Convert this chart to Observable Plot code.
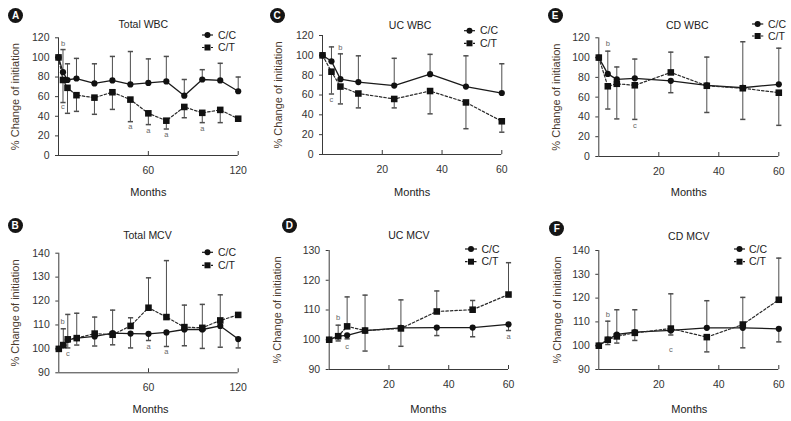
<!DOCTYPE html>
<html><head><meta charset="utf-8">
<script src="https://cdn.jsdelivr.net/npm/d3@7"></script>
<script src="https://cdn.jsdelivr.net/npm/@observablehq/plot@0.6"></script>
<style>
html,body{margin:0;padding:0;background:#fff}
#root{position:relative;width:791px;height:421px;overflow:hidden;background:#fff}
.panel{position:absolute}
.panel svg{overflow:visible}
.badge{position:absolute;width:15px;height:15px;border-radius:50%;background:#151515;color:#fff;
  font:bold 10px "Liberation Sans","DejaVu Sans",sans-serif;text-align:center;line-height:15px}
</style></head>
<body><div id="root"></div>
<script>
// ---------- data ----------
const monthsTotal = [0, 3, 6, 12, 24, 36, 48, 60, 72, 84, 96, 108, 120];
const monthsSub = [0, 3, 6, 12, 24, 36, 48, 60];
const seriesNames = ["C/C", "C/T"];

// A: Total WBC
const totalWbcCC = [100, 85, 77, 78.5, 73.5, 76.5, 72.5, 74, 75.5, 61, 77.5, 76.5, 65.5];
const totalWbcCT = [100, 77, 69, 61.5, 59, 64.5, 57, 43, 35.5, 49.5, 43.5, 46.5, 37.5];
const totalWbcHi = [null, 108, 93.5, 99, 93.5, 101, 106, 98.5, 101, 77.5, 87.5, 94, 80];
const totalWbcLo = [null, 54, 43, 45, 42, 47, 34.5, 31.5, 27, 38.5, 33.5, 33.5, null];
const totalWbcNotes = [["b", 3, 114.5], ["c", 3, 49.5], ["a", 48, 29], ["a", 60, 25], ["a", 72, 21], ["a", 96, 27.5]];

// B: Total MCV
const totalMcvCC = [100, 101.5, 103.8, 104.5, 105.2, 106.6, 106.4, 106.3, 106.9, 108.1, 108.1, 109.6, 104.1];
const totalMcvCT = [100, 101.6, 104, 104.5, 106.4, 105.9, 109.6, 117.2, 113.3, 109.1, 108.8, 111.9, 114.2];
const totalMcvHi = [null, 108.4, 114.4, 114.9, 113.3, 116.2, 113, 129.7, 136.9, 118.3, 118.6, 122.6, null];
const totalMcvLo = [null, null, 100.4, 101.6, 101.2, 101.7, 100.4, 103.5, 101, 101.3, 100.2, 100.7, 100.4];
const totalMcvNotes = [["b", 2.5, 111.5], ["c", 6, 98], ["a", 60, 100.8], ["a", 72, 99]];

// C: UC WBC
const ucWbcCC = [100, 94, 76, 73, 69.5, 81, 68.5, 62];
const ucWbcCT = [100, 83.5, 68.5, 61.5, 56, 64, 52.5, 33.5];
const ucWbcHi = [null, 108.5, 101.5, 99.5, 97, 101, 99.5, 91.5];
const ucWbcLo = [null, 61, 51, 47, 47, 41, 26, 22.5];
const ucWbcNotes = [["b", 6, 107.5], ["c", 3, 55.5]];

// D: UC MCV
const ucMcvCC = [100, 101.2, 101.5, 103.1, 104, 104.1, 104.1, 105.2];
const ucMcvCT = [100, 101.2, 104.5, 103.1, 103.8, 109.5, 110.1, 115.2];
const ucMcvHi = [null, 104.9, 114.4, 115, 113.4, 116.4, 113.2, 125.9];
const ucMcvLo = [null, 99.6, 100.3, 96.2, 97.8, 101.4, 101, 103.1];
const ucMcvNotes = [["b", 3, 107.5], ["c", 6, 97.7], ["a", 60, 100.9]];

// E: CD WBC
const cdWbcCC = [100, 83.5, 78, 79, 76.5, 72, 69.5, 73];
const cdWbcCT = [100, 71, 73.5, 72, 85, 71.5, 69, 64.5];
const cdWbcHi = [null, 106.5, 90.5, 98.5, 105.5, 100.5, 116, 109.5];
const cdWbcLo = [null, 48, 38, 37.5, 64.5, 44.5, 37.5, 31.5];
const cdWbcNotes = [["b", 3, 114], ["c", 12, 31]];

// F: CD MCV
const cdMcvCC = [100, 102.6, 104.7, 105.7, 106.4, 107.5, 107.5, 107.1];
const cdMcvCT = [100, 102.5, 103.9, 105.4, 107.2, 103.6, 108.9, 119.3];
const cdMcvHi = [null, 110.3, 115.1, 115.1, 121.8, 118.9, 120.3, 136.8];
const cdMcvLo = [null, 100.5, 101.1, 102.2, 104.5, 97.4, 99.1, 101.6];
const cdMcvNotes = [["b", 3, 113], ["c", 24, 98.5]];

// axis ticks
const yTicksWbc = [0, 20, 40, 60, 80, 100, 120];
const yTicksMcv140 = [90, 100, 110, 120, 130, 140];
const yTicksMcv130 = [90, 100, 110, 120, 130];
const xTicksTotal = [60, 120];
const xTicksSub = [20, 40, 60];
const yLabelText = "% Change of initiation";
const xLabelText = "Months";

// ---------- layout ----------
const FONT = '"Liberation Sans",Arial,sans-serif';
const panels = [
  {letter:"A", title:"Total WBC", months:monthsTotal, cc:totalWbcCC, ct:totalWbcCT, hi:totalWbcHi, lo:totalWbcLo, notes:totalWbcNotes,
   yDomain:[0,120], yTicks:yTicksWbc, xDomain:[0,120], xTicks:xTicksTotal,
   left:0, top:0, w:262, h:210, mL:58, mR:24.3, mT:37.3, mB:55, titleDx:-5, titleY:24, xlabDx:0, xlabY:192, ylabX:15,
   leg:{x1:202, x2:213, y1:35, y2:47.5, tx:218}, badge:[15.7,15.7]},
  {letter:"B", title:"Total MCV", months:monthsTotal, cc:totalMcvCC, ct:totalMcvCT, hi:totalMcvHi, lo:totalMcvLo, notes:totalMcvNotes,
   yDomain:[90,140], yTicks:yTicksMcv140, xDomain:[0,120], xTicks:xTicksTotal,
   left:0, top:210, w:262, h:211, mL:58.3, mR:24.3, mT:42.7, mB:48.7, titleDx:-1, titleY:25, xlabDx:2, xlabY:199, ylabX:15,
   leg:{x1:202, x2:213, y1:42.3, y2:55.3, tx:218}, badge:[15,225.7]},
  {letter:"C", title:"UC WBC", months:monthsSub, cc:ucWbcCC, ct:ucWbcCT, hi:ucWbcHi, lo:ucWbcLo, notes:ucWbcNotes,
   yDomain:[0,120], yTicks:yTicksWbc, xDomain:[0,60], xTicks:xTicksSub,
   left:262, top:0, w:263, h:210, mL:60, mR:23.7, mT:35, mB:56, titleDx:-2, titleY:25, xlabDx:0, xlabY:192, ylabX:16,
   leg:{x1:202, x2:213, y1:30.7, y2:43.3, tx:218}, badge:[277,15.7]},
  {letter:"D", title:"UC MCV", months:monthsSub, cc:ucMcvCC, ct:ucMcvCT, hi:ucMcvHi, lo:ucMcvLo, notes:ucMcvNotes,
   yDomain:[90,130], yTicks:yTicksMcv130, xDomain:[0,60], xTicks:xTicksSub,
   left:262, top:210, w:263, h:211, mL:66.7, mR:17, mT:40, mB:52, titleDx:-10, titleY:25, xlabDx:9.5, xlabY:199, ylabX:15,
   leg:{x1:203, x2:215, y1:39, y2:51.7, tx:219.5}, badge:[289.3,225.7]},
  {letter:"E", title:"CD WBC", months:monthsSub, cc:cdWbcCC, ct:cdWbcCT, hi:cdWbcHi, lo:cdWbcLo, notes:cdWbcNotes,
   yDomain:[0,120], yTicks:yTicksWbc, xDomain:[0,60], xTicks:xTicksSub,
   left:525, top:0, w:266, h:210, mL:73.3, mR:12.7, mT:37.3, mB:54, titleDx:-1.5, titleY:25, xlabDx:0, xlabY:192, ylabX:30.7,
   leg:{x1:227, x2:238.3, y1:24, y2:36, tx:243}, badge:[555,15.7]},
  {letter:"F", title:"CD MCV", months:monthsSub, cc:cdMcvCC, ct:cdMcvCT, hi:cdMcvHi, lo:cdMcvLo, notes:cdMcvNotes,
   yDomain:[90,140], yTicks:yTicksMcv140, xDomain:[0,60], xTicks:xTicksSub,
   left:525, top:210, w:266, h:211, mL:73.3, mR:12.7, mT:40, mB:52, titleDx:0, titleY:26, xlabDx:0.5, xlabY:199, ylabX:31.7,
   leg:{x1:209, x2:220, y1:39, y2:51.7, tx:224}, badge:[556.7,228.3]}
];

const capSymbol = {draw(ctx){ ctx.moveTo(-2.6, 0); ctx.lineTo(2.6, 0); }};
const root = document.getElementById("root");

for (const p of panels) {
  const rows = p.months.map((m, i) => ({m, cc: p.cc[i], ct: p.ct[i], hi: p.hi[i], lo: p.lo[i]}));
  const upRows = rows.filter(d => d.hi != null);
  const loRows = rows.filter(d => d.lo != null);
  const notes = p.notes.map(([t, m, v]) => ({t, m, v}));
  const frameH = p.h - p.mT - p.mB;
  const axisCol = "#3a3a3a", barCol = "#4d4d4d";

  const svg = Plot.plot({
    width: p.w, height: p.h,
    marginLeft: p.mL, marginRight: p.mR, marginTop: p.mT, marginBottom: p.mB,
    style: {fontFamily: FONT, fontSize: "10.5px", color: "#333", background: "transparent", overflow: "visible"},
    x: {domain: p.xDomain},
    y: {domain: p.yDomain},
    marks: [
      Plot.ruleX([p.xDomain[0]], {stroke: axisCol, strokeWidth: 1}),
      Plot.ruleY([p.yDomain[0]], {stroke: axisCol, strokeWidth: 1}),
      Plot.axisY({ticks: p.yTicks, tickSize: 3, tickPadding: 6, label: null, stroke: axisCol, fill: "#333", fontSize: 10.5}),
      Plot.axisX({ticks: p.xTicks, tickSize: 0, tickPadding: 11, label: null, fill: "#333", fontSize: 10.5}),
      Plot.tickX(p.xTicks, {x: d => d, insetTop: frameH - 4, stroke: axisCol}),
      // error bars
      Plot.ruleX(upRows, {x: "m", y1: d => Math.max(d.cc, d.ct), y2: "hi", stroke: barCol, strokeWidth: 1}),
      Plot.ruleX(loRows, {x: "m", y1: d => Math.min(d.cc, d.ct), y2: "lo", stroke: barCol, strokeWidth: 1}),
      Plot.dot(upRows, {x: "m", y: "hi", symbol: capSymbol, stroke: barCol, fill: "none", r: 3}),
      Plot.dot(loRows, {x: "m", y: "lo", symbol: capSymbol, stroke: barCol, fill: "none", r: 3}),
      // lines
      Plot.line(rows, {x: "m", y: "cc", stroke: "#1a1a1a", strokeWidth: 1.3}),
      Plot.line(rows, {x: "m", y: "ct", stroke: "#2a2a2a", strokeWidth: 1.2, strokeDasharray: "2.5,2"}),
      Plot.dot(rows, {x: "m", y: "cc", r: 3.1, fill: "#111", stroke: "none"}),
      Plot.dot(rows, {x: "m", y: "ct", symbol: "square", r: 3.7, fill: "#111", stroke: "none"}),
      // significance letters
      Plot.text(notes, {x: "m", y: "v", text: "t", fontSize: 7.5, fill: "#666"}),
      // title & axis labels
      Plot.text([p.title], {frameAnchor: "top", dx: p.titleDx, dy: p.titleY - p.mT, lineAnchor: "middle", fontSize: 10.5, fill: "#222"}),
      Plot.text([xLabelText], {frameAnchor: "bottom", dx: p.xlabDx, dy: p.xlabY - (p.h - p.mB), lineAnchor: "middle", fontSize: 11, fill: "#222"}),
      Plot.text([yLabelText], {frameAnchor: "left", dx: p.ylabX - p.mL, rotate: -90, textAnchor: "middle", lineAnchor: "middle", fontSize: 11, fill: "#4a3a2e"})
    ]
  });

  // legend
  const g = d3.select(svg).append("g").attr("font-family", FONT).attr("font-size", 10.5)
    .attr("fill", "#222").attr("text-anchor", "start");
  const L = p.leg;
  const mx = (L.x1 + L.x2) / 2;
  [[L.y1, null, "circle"], [L.y2, "2.5,2", "square"]].forEach(([yy, dash, shape], i) => {
    g.append("line").attr("x1", L.x1).attr("x2", L.x2).attr("y1", yy).attr("y2", yy)
      .attr("stroke", "#1a1a1a").attr("stroke-width", 1.2).attr("stroke-dasharray", dash);
    if (shape === "circle") g.append("circle").attr("cx", mx).attr("cy", yy).attr("r", 3).attr("fill", "#111");
    else g.append("rect").attr("x", mx - 3).attr("y", yy - 3).attr("width", 6).attr("height", 6).attr("fill", "#111");
    g.append("text").attr("x", L.tx).attr("y", yy).attr("dy", "0.35em").attr("text-anchor", "start").text(seriesNames[i]);
  });

  const div = document.createElement("div");
  div.className = "panel";
  div.style.left = p.left + "px"; div.style.top = p.top + "px";
  div.style.width = p.w + "px"; div.style.height = p.h + "px";
  div.appendChild(svg);
  root.appendChild(div);

  const b = document.createElement("div");
  b.className = "badge";
  b.textContent = p.letter;
  b.style.left = (p.badge[0] - 7.5) + "px"; b.style.top = (p.badge[1] - 7.5) + "px";
  root.appendChild(b);
}
</script>
</body></html>
